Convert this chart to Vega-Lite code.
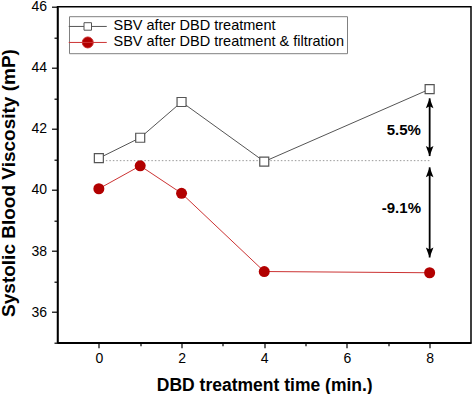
{
  "$schema": "https://vega.github.io/schema/vega-lite/v6.json",
  "width": 413.5,
  "height": 336,
  "autosize": {"type": "none"},
  "padding": {"left": 57.5, "top": 6.7, "right": 2, "bottom": 51.3},
  "background": "white",
  "config": {
    "font": "Liberation Sans",
    "view": {"stroke": "black", "strokeWidth": 1.5},
    "axis": {
      "grid": false,
      "domainColor": "black",
      "domainWidth": 1.5,
      "tickColor": "black",
      "tickWidth": 1.2,
      "labelColor": "black",
      "labelFont": "Liberation Sans",
      "labelFontSize": 14,
      "titleColor": "black",
      "titleFont": "Liberation Sans",
      "titleFontWeight": "bold"
    }
  },
  "resolve": {"axis": {"x": "independent", "y": "independent"}},
  "datasets": {
    "series": [
      {"t": 0, "v": 41.04, "series": "SBV after DBD treatment"},
      {"t": 1, "v": 41.71, "series": "SBV after DBD treatment"},
      {"t": 2, "v": 42.88, "series": "SBV after DBD treatment"},
      {"t": 4, "v": 40.93, "series": "SBV after DBD treatment"},
      {"t": 8, "v": 43.30, "series": "SBV after DBD treatment"},
      {"t": 0, "v": 40.04, "series": "SBV after DBD treatment & filtration"},
      {"t": 1, "v": 40.79, "series": "SBV after DBD treatment & filtration"},
      {"t": 2, "v": 39.89, "series": "SBV after DBD treatment & filtration"},
      {"t": 4, "v": 37.33, "series": "SBV after DBD treatment & filtration"},
      {"t": 8, "v": 37.29, "series": "SBV after DBD treatment & filtration"}
    ],
    "baseline": [{"t": 0, "t2": 8, "v": 40.96}],
    "arrows": [
      {"t": 8, "v": 43.00, "v2": 41.11},
      {"t": 8, "v": 40.74, "v2": 37.79}
    ],
    "heads": [
      {"t": 8, "v": 43.00, "dir": "up"},
      {"t": 8, "v": 41.11, "dir": "down"},
      {"t": 8, "v": 40.74, "dir": "up"},
      {"t": 8, "v": 37.79, "dir": "down"}
    ],
    "labels": [
      {"t": 7.79, "v": 41.96, "label": "5.5%"},
      {"t": 7.79, "v": 39.42, "label": "-9.1%"}
    ]
  },
  "layer": [
    {
      "data": {"name": "baseline"},
      "mark": {"type": "rule", "color": "#999999", "strokeWidth": 1, "strokeDash": [1.5, 2]},
      "encoding": {
        "x": {"field": "t", "type": "quantitative", "scale": {"domain": [-1, 9], "nice": false, "zero": false},
          "axis": {"orient": "bottom", "values": [1, 3, 5, 7], "labels": false, "title": null, "domain": false, "tickSize": 3}},
        "x2": {"field": "t2"},
        "y": {"field": "v", "type": "quantitative", "scale": {"domain": [35, 46], "nice": false, "zero": false},
          "axis": {"orient": "left", "values": [35, 37, 39, 41, 43, 45], "labels": false, "title": null, "domain": false, "tickSize": 3.5}}
      }
    },
    {
      "data": {"name": "series"},
      "mark": {"type": "line", "strokeWidth": 1},
      "encoding": {
        "x": {"field": "t", "type": "quantitative", "scale": {"domain": [-1, 9], "nice": false, "zero": false},
          "axis": {"orient": "bottom", "values": [0, 2, 4, 6, 8], "title": "DBD treatment time (min.)", "tickSize": 5, "labelPadding": 4,
            "titleFontSize": 17.5, "titleBaseline": "alphabetic", "titleY": 47.3}},
        "y": {"field": "v", "type": "quantitative", "scale": {"domain": [35, 46], "nice": false, "zero": false},
          "axis": {"orient": "left", "values": [36, 38, 40, 42, 44, 46], "title": "Systolic Blood Viscosity (mP)", "tickSize": 6, "labelPadding": 5,
            "titleFontSize": 19, "titleAngle": -90, "titleAlign": "center", "titleBaseline": "alphabetic", "titleX": -43, "titleY": 175.8}},
        "color": {
          "field": "series", "type": "nominal",
          "scale": {"domain": ["SBV after DBD treatment", "SBV after DBD treatment & filtration"], "range": ["#555555", "#cc3333"]},
          "legend": {
            "title": null,
            "orient": "none",
            "legendX": 11.5,
            "legendY": 9.5,
            "strokeColor": "#808080",
            "fillColor": "white",
            "padding": 3,
            "rowPadding": 1,
            "symbolSize": 100,
            "symbolStrokeWidth": 1,
            "symbolOffset": 8.5,
            "labelOffset": 18.5,
            "labelLimit": 400,
            "labelFontSize": 14.5,
            "labelFont": "Liberation Sans",
            "labelColor": "black",
            "encode": {
              "symbols": {
                "update": {
                  "shape": {"signal": "datum.value === 'SBV after DBD treatment' ? 'M-3.8,0H-0.75M0.75,0H3.8M-0.75,-0.75H0.75V0.75H-0.75Z' : 'M-3.8,0H3.8M-1.1,0A1.1,1.1,0,1,0,1.1,0A1.1,1.1,0,1,0,-1.1,0Z'"},
                  "fill": {"signal": "datum.value === 'SBV after DBD treatment' ? 'white' : '#b20000'"},
                  "stroke": {"signal": "datum.value === 'SBV after DBD treatment' ? '#555555' : '#cc2222'"},
                  "opacity": {"value": 1}
                }
              }
            }
          }
        }
      }
    },
    {
      "data": {"name": "series"},
      "transform": [{"filter": "datum.series === 'SBV after DBD treatment'"}],
      "mark": {"type": "point", "shape": "square", "size": 81, "filled": true, "fill": "white", "stroke": "#555555", "strokeWidth": 1.2, "opacity": 1},
      "encoding": {
        "x": {"field": "t", "type": "quantitative", "scale": {"domain": [-1, 9], "nice": false, "zero": false}, "axis": null},
        "y": {"field": "v", "type": "quantitative", "scale": {"domain": [35, 46], "nice": false, "zero": false}, "axis": null}
      }
    },
    {
      "data": {"name": "series"},
      "transform": [{"filter": "datum.series === 'SBV after DBD treatment & filtration'"}],
      "mark": {"type": "point", "shape": "circle", "size": 121, "filled": true, "fill": "#b20000", "stroke": null, "opacity": 1},
      "encoding": {
        "x": {"field": "t", "type": "quantitative", "scale": {"domain": [-1, 9], "nice": false, "zero": false}, "axis": null},
        "y": {"field": "v", "type": "quantitative", "scale": {"domain": [35, 46], "nice": false, "zero": false}, "axis": null}
      }
    },
    {
      "data": {"name": "arrows"},
      "mark": {"type": "rule", "color": "black", "strokeWidth": 1.8},
      "encoding": {
        "x": {"field": "t", "type": "quantitative", "scale": {"domain": [-1, 9], "nice": false, "zero": false}, "axis": null},
        "y": {"field": "v", "type": "quantitative", "scale": {"domain": [35, 46], "nice": false, "zero": false}, "axis": null},
        "y2": {"field": "v2"}
      }
    },
    {
      "data": {"name": "heads"},
      "mark": {"type": "point", "filled": true, "fill": "black", "stroke": null, "size": 400, "opacity": 1},
      "encoding": {
        "x": {"field": "t", "type": "quantitative", "scale": {"domain": [-1, 9], "nice": false, "zero": false}, "axis": null},
        "y": {"field": "v", "type": "quantitative", "scale": {"domain": [35, 46], "nice": false, "zero": false}, "axis": null},
        "shape": {"field": "dir", "type": "nominal", "legend": null,
          "scale": {"domain": ["up", "down"], "range": ["M0,0L0.38,1L0,0.8L-0.38,1Z", "M0,0L0.38,-1L0,-0.8L-0.38,-1Z"]}}
      }
    },
    {
      "data": {"name": "labels"},
      "mark": {"type": "text", "align": "right", "baseline": "middle", "fontSize": 15, "fontWeight": "bold", "font": "Liberation Sans", "color": "black"},
      "encoding": {
        "x": {"field": "t", "type": "quantitative", "scale": {"domain": [-1, 9], "nice": false, "zero": false}, "axis": null},
        "y": {"field": "v", "type": "quantitative", "scale": {"domain": [35, 46], "nice": false, "zero": false}, "axis": null},
        "text": {"field": "label", "type": "nominal"}
      }
    }
  ]
}
